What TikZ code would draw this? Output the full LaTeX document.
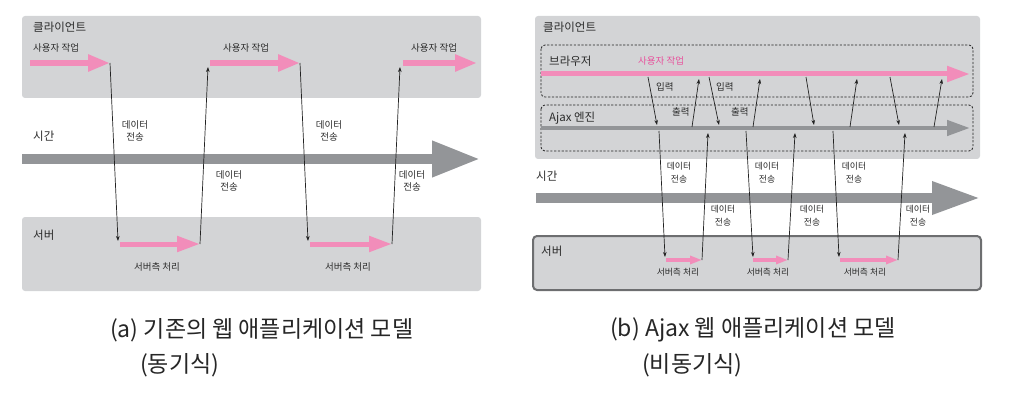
\documentclass[tikz,border=0pt]{standalone}
\usepackage{fontspec}
\newfontfamily\kr{Noto Sans CJK KR}
\usetikzlibrary{arrows.meta}
\definecolor{boxgray}{HTML}{D3D4D6}
\definecolor{pinkc}{HTML}{F28DBA}
\definecolor{pinktext}{HTML}{E8509C}
\definecolor{bargray}{HTML}{939598}
\definecolor{textc}{HTML}{2A2A2A}
\definecolor{linec}{HTML}{222222}
\definecolor{framec}{HTML}{6D6E70}
\begin{document}
\begin{tikzpicture}[x=1pt,y=-1pt,
  lbl/.style={font=\kr\fontsize{9.5}{12}\selectfont, text=textc, inner sep=0pt},
  slbl/.style={font=\kr\fontsize{8.8}{13}\selectfont, text=textc, inner sep=0pt},
  titletxt/.style={font=\kr\fontsize{11.5}{13}\selectfont, text=textc, inner sep=0pt, anchor=west},
  captxt/.style={font=\kr\fontsize{23}{26}\selectfont, text=black!85, inner sep=0pt, anchor=west},
  panel/.style={fill=boxgray, draw=none, rounded corners=3pt},
  dbox/.style={draw=linec, line width=0.8pt, dash pattern=on 2.2pt off 1.6pt, rounded corners=4pt},
  bigpink/.style={draw=pinkc, line width=5.5pt, -{Triangle[length=22pt,width=16pt]}},
  midpink/.style={draw=pinkc, line width=5pt, -{Triangle[length=23pt,width=15pt]}},
  smallpink/.style={draw=pinkc, line width=3.2pt, -{Triangle[length=12pt,width=8pt]}},
  bigbar/.style={draw=bargray, line width=10pt, -{Triangle[length=48pt,width=34pt]}},
  midbar/.style={draw=bargray, line width=4.5pt, -{Triangle[length=23pt,width=15pt]}},
  msg/.style={draw=linec, line width=0.7pt, -{Stealth[length=5pt,width=3.6pt]}}
]
\useasboundingbox (0,0) rectangle (1018,401);

% ================= (a) =================
\fill[panel] (22,16) rectangle (481,98);
\fill[panel] (22,217) rectangle (481,291);
\node[titletxt] (aclient) at (33,27) {클라이언트};
\node[titletxt] (atime) at (33,136) {시간};
\node[titletxt] (aserver) at (33,235) {서버};

\coordinate (tbs) at (22,159); \coordinate (tbe) at (480,159);
\draw[bigbar] (tbs) -- (tbe);

\coordinate (u1s) at (30,63);  \coordinate (u1e) at (110,63);
\coordinate (u2s) at (210,63); \coordinate (u2e) at (300,63);
\coordinate (u3s) at (403,63); \coordinate (u3e) at (477,63);
\draw[bigpink] (u1s) -- (u1e);
\draw[bigpink] (u2s) -- (u2e);
\draw[bigpink] (u3s) -- (u3e);
\node[lbl, anchor=west] (ua1) at (33,48) {사용자 작업};
\node[lbl, anchor=west] (ua2) at (223,48) {사용자 작업};
\node[lbl, anchor=west] (ua3) at (411,48) {사용자 작업};

\coordinate (s1s) at (120,244); \coordinate (s1e) at (200,244);
\coordinate (s2s) at (310,244); \coordinate (s2e) at (392,244);
\draw[midpink] (s1s) -- (s1e);
\draw[midpink] (s2s) -- (s2e);
\node[lbl] (sa1) at (157,267) {서버측 처리};
\node[lbl] (sa2) at (348,267) {서버측 처리};

\coordinate (d1e) at (118,241);
\coordinate (d2e) at (308,241);
\coordinate (r1e) at (208,67);
\coordinate (r2e) at (400,67);
\draw[msg] (u1e) -- (d1e);
\draw[msg] (s1e) -- (r1e);
\draw[msg] (u2e) -- (d2e);
\draw[msg] (s2e) -- (r2e);

\node[lbl, align=center] (ta1) at (135,131) {데이터\\전송};
\node[lbl, align=center] (ta2) at (229,181) {데이터\\전송};
\node[lbl, align=center] (ta3) at (329,131) {데이터\\전송};
\node[lbl, align=center] (ta4) at (412,181) {데이터\\전송};

% ================= (b) =================
\fill[panel] (535,16) rectangle (980,159);
\draw[dbox] (541,45) rectangle (973,97);
\draw[dbox] (541,105) rectangle (973,151);
\node[titletxt] (bclient) at (543,27) {클라이언트};
\node[titletxt] (bbrowser) at (549,61) {브라우저};
\node[titletxt] (bajax) at (549,118) {Ajax 엔진};
\node[lbl, anchor=west, text=pinktext] (bua) at (638,61) {사용자 작업};

\coordinate (pls) at (541,74); \coordinate (ple) at (970,74);
\draw[midpink] (pls) -- (ple);
\coordinate (gls) at (541,128); \coordinate (gle) at (970,128);
\draw[midbar] (gls) -- (gle);

\node[lbl, anchor=west] (in1) at (656,87) {입력};
\node[lbl, anchor=west] (in2) at (716,87) {입력};
\node[lbl, anchor=west] (out1) at (672,112) {출력};
\node[lbl, anchor=west] (out2) at (731,112) {출력};

% browser <-> ajax
\foreach \n/\xa/\xb in {1/648/657, 2/709/719, 3/806/814, 4/890/899}{
  \coordinate (bd\n s) at (\xa,77); \coordinate (bd\n e) at (\xb,125);
  \draw[msg] (bd\n s) -- (bd\n e);
}
\foreach \n/\xa/\xb in {1/692/699, 2/753/760, 3/850/857, 4/934/942}{
  \coordinate (bu\n s) at (\xa,127); \coordinate (bu\n e) at (\xb,79);
  \draw[msg] (bu\n s) -- (bu\n e);
}

% time bar
\coordinate (tb2s) at (536,198); \coordinate (tb2e) at (980,198);
\draw[draw=bargray, line width=9.5pt, -{Triangle[length=48pt,width=31pt]}] (tb2s) -- (tb2e);
\node[titletxt] (btime) at (536,176) {시간};

% server
\draw[fill=boxgray, draw=framec, line width=2pt, rounded corners=4pt] (533,236) rectangle (981,290);
\node[titletxt] (bserver) at (541,251) {서버};

\coordinate (sp1s) at (666,260); \coordinate (sp1e) at (702,260);
\coordinate (sp2s) at (753,260); \coordinate (sp2e) at (788,260);
\coordinate (sp3s) at (840,260); \coordinate (sp3e) at (898,260);
\draw[smallpink] (sp1s) -- (sp1e);
\draw[smallpink] (sp2s) -- (sp2e);
\draw[smallpink] (sp3s) -- (sp3e);
\node[slbl] (sb1) at (678,272) {서버측 처리};
\node[slbl] (sb2) at (768,272) {서버측 처리};
\node[slbl] (sb3) at (865,272) {서버측 처리};

% ajax <-> server
\coordinate (ad1s) at (659,131); \coordinate (ad1e) at (665,257);
\coordinate (ad2s) at (746,131); \coordinate (ad2e) at (753,257);
\coordinate (ad3s) at (833,131); \coordinate (ad3e) at (839,257);
\draw[msg] (ad1s) -- (ad1e);
\draw[msg] (ad2s) -- (ad2e);
\draw[msg] (ad3s) -- (ad3e);
\coordinate (au1e) at (708,133);
\coordinate (au2e) at (795,133);
\coordinate (au3e) at (905,133);
\draw[msg] (sp1e) -- (au1e);
\draw[msg] (sp2e) -- (au2e);
\draw[msg] (sp3e) -- (au3e);

\node[slbl, align=center] (tb1) at (679,172.5) {데이터\\전송};
\node[slbl, align=center] (tb2) at (723,216) {데이터\\전송};
\node[slbl, align=center] (tb3) at (767,172.5) {데이터\\전송};
\node[slbl, align=center] (tb4) at (812,216) {데이터\\전송};
\node[slbl, align=center] (tb5) at (854,172.5) {데이터\\전송};
\node[slbl, align=center] (tb6) at (918,216) {데이터\\전송};

% captions
\node[captxt] (capa1) at (110,330) {(a) 기존의 웹 애플리케이션 모델};
\node[captxt] (capa2) at (140,365) {(동기식)};
\node[captxt] (capb1) at (610,330) {(b) Ajax 웹 애플리케이션 모델};
\node[captxt] (capb2) at (642,365) {(비동기식)};
\end{tikzpicture}
\end{document}
